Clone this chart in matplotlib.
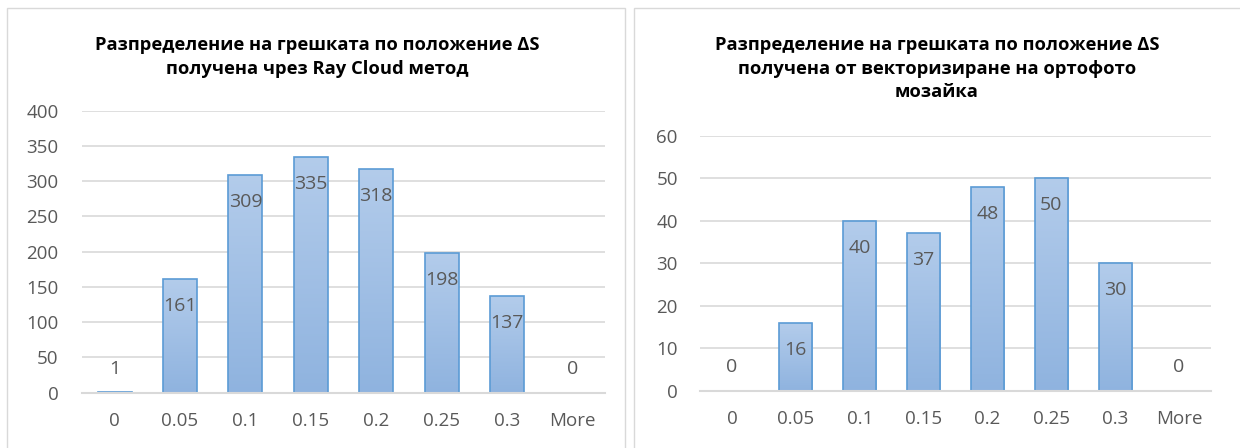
import numpy as np
import matplotlib
matplotlib.use("Agg")
import matplotlib.pyplot as plt
from matplotlib.patches import Rectangle
from matplotlib.colors import LinearSegmentedColormap

categories = ["0", "0.05", "0.1", "0.15", "0.2", "0.25", "0.3", "More"]
values_left = [1, 161, 309, 335, 318, 198, 137, 0]
values_right = [0, 16, 40, 37, 48, 50, 30, 0]
title_left = "Разпределение на грешката по положение ΔS\nполучена чрез Ray Cloud метод"
title_right = "Разпределение на грешката по положение ΔS\nполучена от векторизиране на ортофото\nмозайка"
yticks_left = [0, 50, 100, 150, 200, 250, 300, 350, 400]
yticks_right = [0, 10, 20, 30, 40, 50, 60]

W, H = 1240, 448
DPI = 100
plt.rcParams['font.family'] = ['Open Sans', 'DejaVu Sans']

fig = plt.figure(figsize=(W / DPI, H / DPI), dpi=DPI)
fig.patch.set_facecolor("white")

GRID = "#D9D9D9"
TXT = "#595959"
EDGE = "#5B9BD5"
cmap = LinearSegmentedColormap.from_list("g", ["#8FB3DF", "#B3CCEB"])


def px_axes(x0, x1, ytop, ybot):
    return fig.add_axes([x0 / W, 1 - ybot / H, (x1 - x0) / W, (ybot - ytop) / H])


def panel(x0, x1, y0):
    fig.patches.append(Rectangle((x0 / W, -0.1), (x1 - x0) / W, 1 - y0 / H + 0.1,
                                 transform=fig.transFigure, fill=False,
                                 edgecolor=GRID, linewidth=1.0, zorder=0))


def draw(ax, values, yticks, ypad):
    x = np.arange(len(categories))
    ymax = yticks[-1]
    ax.set_xlim(-0.5, len(categories) - 0.5)
    ax.set_ylim(0, ymax)
    grad = np.linspace(0, 1, 256).reshape(-1, 1)
    bars = ax.bar(x, values, width=0.52, facecolor="none", edgecolor=EDGE,
                  linewidth=1.2, zorder=4)
    for b in bars:
        if b.get_height() <= 0:
            continue
        im = ax.imshow(grad, cmap=cmap, origin="lower", aspect="auto",
                       extent=[b.get_x(), b.get_x() + b.get_width(), 0, b.get_height()],
                       zorder=3)
        im.set_clip_path(b)
    ax.set_xlim(-0.5, len(categories) - 0.5)
    ax.set_ylim(0, ymax)
    ax.set_yticks(yticks)
    ax.yaxis.grid(True, color=GRID, linewidth=1.2)
    ax.set_axisbelow(True)
    for s in ["top", "right", "left"]:
        ax.spines[s].set_visible(False)
    ax.spines["bottom"].set_color(GRID)
    ax.spines["bottom"].set_linewidth(1.5)
    ax.spines["bottom"].set_zorder(5)
    ax.tick_params(axis="both", length=0, colors=TXT, labelsize=13.5)
    ax.tick_params(axis="y", pad=ypad)
    ax.tick_params(axis="x", pad=14)
    ax.set_xticks(x)
    ax.set_xticklabels(categories)
    # data labels
    axh_px = ax.get_position().height * H
    for xi, v in zip(x, values):
        hpx = v / ymax * axh_px
        if hpx > 40:
            ax.annotate(str(v), (xi, v), xytext=(0, -27 * 72 / DPI), textcoords="offset points",
                        ha="center", va="center", color=TXT, fontsize=14, zorder=6)
        else:
            ax.annotate(str(v), (xi, 0), xytext=(0, 24 * 72 / DPI), textcoords="offset points",
                        ha="center", va="center", color=TXT, fontsize=14, zorder=6)


panel(7, 625, 8)
panel(634, 1260, 8)

axL = px_axes(82, 605, 110.7, 392.7)
draw(axL, values_left, yticks_left, 17)
axR = px_axes(700, 1211, 135.7, 390.7)
draw(axR, values_right, yticks_right, 16)

fig.text(317 / W, 1 - 36 / H, title_left, ha="center", va="top", fontsize=13.2,
         fontweight="bold", color="#000000", linespacing=1.4)
fig.text(937 / W, 1 - 36 / H, title_right, ha="center", va="top", fontsize=13.2,
         fontweight="bold", color="#000000", linespacing=1.4)

fig.savefig("out.png", dpi=DPI, facecolor="white")
